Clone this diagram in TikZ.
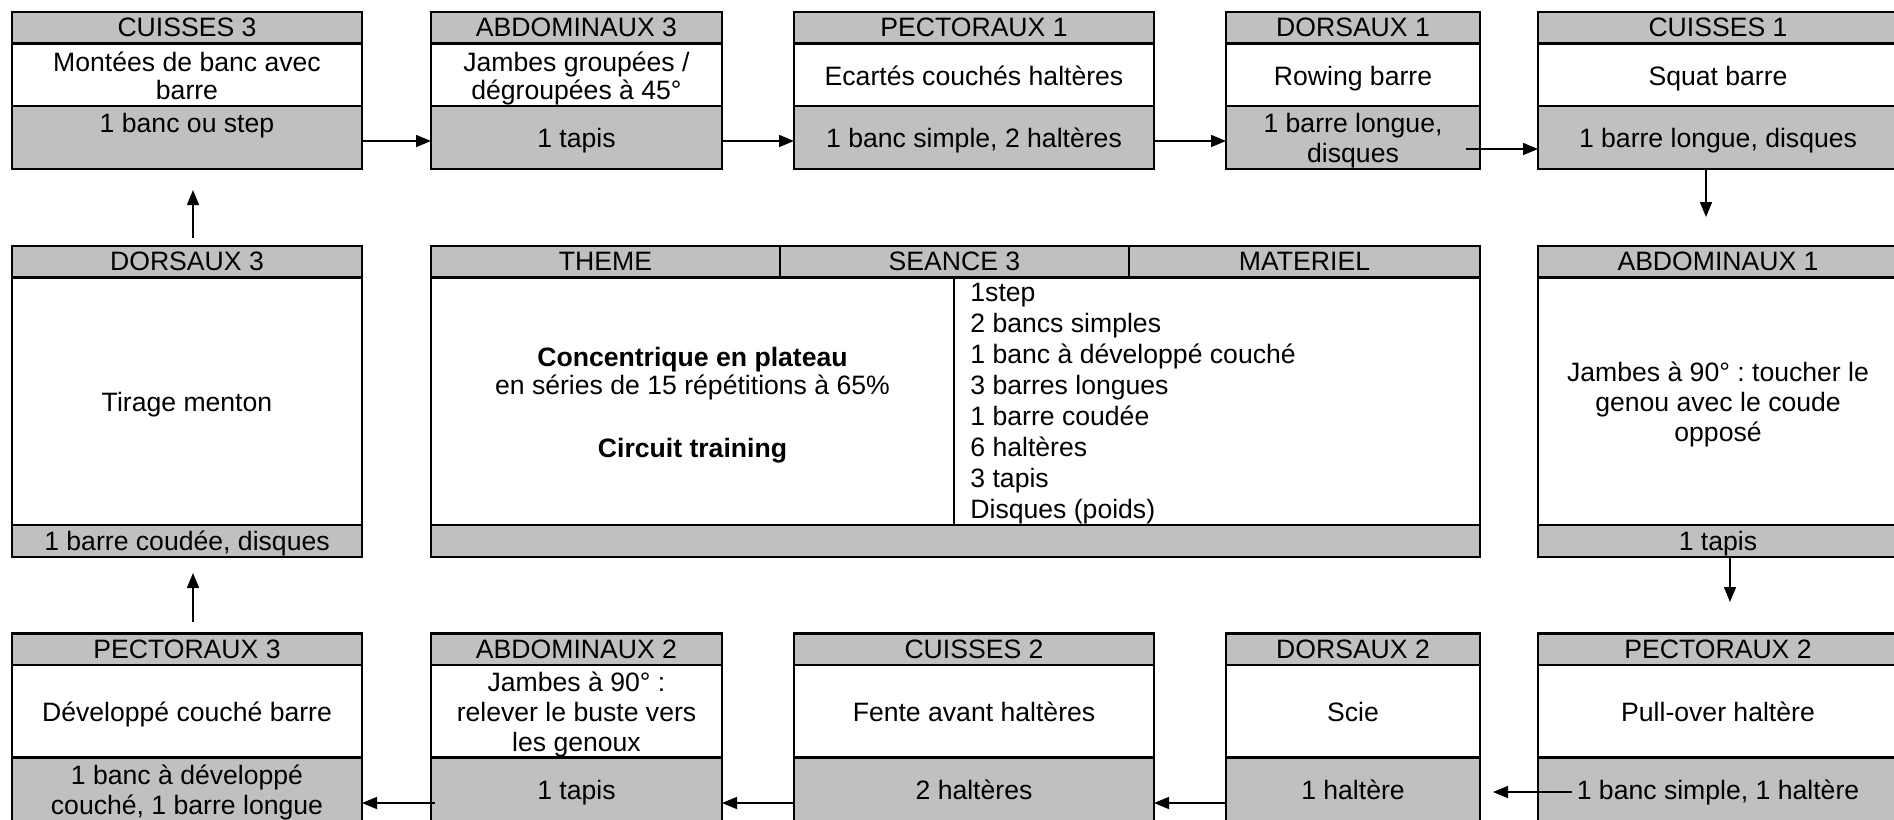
\documentclass[tikz,border=0pt]{standalone}
\usepackage{fontspec}
\setmainfont{Liberation Sans}
\usetikzlibrary{arrows.meta,calc}
\definecolor{boxgray}{RGB}{192,192,192}
\newcommand\cellfont{\fontsize{13.3}{15}\selectfont\frenchspacing}
\newcommand\listfont{\fontsize{13.3}{15.5}\selectfont\frenchspacing}
\newcommand\wstrut{\rule[-0.212em]{0pt}{1.117em}}
\newcommand\wstrutlow{\rule[-0.212em]{0pt}{\dimexpr1.117em+1.2pt\relax}}
\newcommand\gearstrut{\wstrutlow}
\newcommand\mkstation[9]{%
  \node[hd, minimum width=#4] (#1h) at (#2,#3) {#7};
  \node[bd, minimum width=#4, minimum height=#5] (#1b) at (#1h.south west) {\wstrutlow#8};
  \node[gr, minimum width=#4, minimum height=#6] (#1g) at (#1b.south west) {\gearstrut#9};
}
\begin{document}
\begin{tikzpicture}[x=1pt,y=-1pt,
  cell/.style={draw=black, line width=1.2pt, inner sep=0pt, outer sep=0pt, align=center, anchor=north west, font=\cellfont},
  hd/.style={cell, fill=boxgray, minimum height=15.75pt, execute at begin node=\wstrut, execute at end node=\wstrut},
  bd/.style={cell, fill=white, execute at end node=\wstrut},
  gr/.style={cell, fill=boxgray, execute at end node=\wstrut},
  arr/.style={line width=0.75pt, -{Triangle[length=7.5pt,width=6pt]}}]
\useasboundingbox (0,0) rectangle (947,409.5);
\fill[white] (0,0) rectangle (947,409.5);
\clip (0,0) rectangle (947,409.5);

% top row
\mkstation{c3}{6}{6}{175pt}{31.25pt}{31.5pt}{CUISSES 3}{Montées de banc avec\\[-1.1pt]barre}{1 banc ou step\\\mbox{}}
\mkstation{a3}{215.5}{6}{145.5pt}{31.25pt}{31.5pt}{ABDOMINAUX 3}{Jambes groupées /\\[-1.1pt]dégroupées à 45°}{1 tapis}
\mkstation{p1}{397}{6}{180pt}{31.25pt}{31.5pt}{PECTORAUX 1}{Ecartés couchés haltères}{1 banc simple, 2 haltères}
\mkstation{d1}{613}{6}{127pt}{31.25pt}{31.5pt}{DORSAUX 1}{Rowing barre}{1 barre longue,\\disques}
\mkstation{c1}{769}{6}{180pt}{31.25pt}{31.5pt}{CUISSES 1}{Squat barre}{1 barre longue, disques}

% middle row
\def\gearstrut{\wstrut}
\mkstation{d3}{6}{123}{175pt}{123.75pt}{16pt}{DORSAUX 3}{Tirage menton}{1 barre coudée, disques}
\mkstation{a1}{769}{123}{180pt}{123.75pt}{16pt}{ABDOMINAUX 1}{Jambes à 90° : toucher le\\genou avec le coude\\opposé}{1 tapis}

% central table
\node[hd, minimum width=174.5pt] (th1) at (215.5,123) {THEME};
\node[hd, minimum width=174.5pt] (th2) at (th1.north east) {SEANCE 3};
\node[hd, minimum width=175.5pt] (th3) at (th2.north east) {MATERIEL};
\node[bd, minimum width=261.5pt, minimum height=123.75pt] (tb1) at (th1.south west)
  {\rule{0pt}{13.3pt}\textbf{Concentrique en plateau}\\[-1.1pt]en séries de 15 répétitions à 65\%\\[16.4pt]\textbf{Circuit training}};
\node[bd, minimum width=263pt, minimum height=123.75pt] (tb2) at (tb1.north east) {};
\node[gr, minimum width=524.5pt, minimum height=16pt] (tg) at (tb1.south west) {};
\node[anchor=north west, inner sep=0pt, align=left, font=\listfont] (mat) at ($(tb2.north west)+(8,2.8)$)
  {1step\\2 bancs simples\\1 banc à développé couché\\3 barres longues\\1 barre coudée\\6 haltères\\3 tapis\\Disques (poids)};

% bottom row
\def\gearstrut{\wstrutlow}
\mkstation{p3}{6}{316.75}{175pt}{46.25pt}{31.75pt}{PECTORAUX 3}{Développé couché barre}{1 banc à développé\\couché, 1 barre longue}
\mkstation{a2}{215.5}{316.75}{145.5pt}{46.25pt}{31.75pt}{ABDOMINAUX 2}{Jambes à 90° :\\relever le buste vers\\les genoux}{1 tapis}
\mkstation{c2}{397}{316.75}{180pt}{46.25pt}{31.75pt}{CUISSES 2}{Fente avant haltères}{2 haltères}
\mkstation{d2}{613}{316.75}{127pt}{46.25pt}{31.75pt}{DORSAUX 2}{Scie}{1 haltère}
\mkstation{p2}{769}{316.75}{180pt}{46.25pt}{31.75pt}{PECTORAUX 2}{Pull-over haltère}{1 banc simple, 1 haltère}

% arrow rows
\coordinate (r1) at (0,70.5);
\coordinate (r2) at (0,74.5);
\coordinate (r4) at (0,396);
\coordinate (r5) at (0,401.5);

\draw[arr] (c3g.east |- r1) -- (a3g.west |- r1);
\draw[arr] (a3g.east |- r1) -- (p1g.west |- r1);
\draw[arr] (p1g.east |- r1) -- (d1g.west |- r1);
\draw[arr] ($(d1g.east |- r2)+(-7,0)$) -- (c1g.west |- r2);
\draw[arr] ([xshift=-6pt]c1g.south) -- ++(0,24);
\draw[arr] ([xshift=6pt]a1g.south) -- ++(0,22.5);
\draw[arr] ($(p2g.west |- r4)+(17,0)$) -- ($(d2g.east |- r4)+(6.5,0)$);
\draw[arr] (d2g.west |- r5) -- (c2g.east |- r5);
\draw[arr] (c2g.west |- r5) -- (a2g.east |- r5);
\draw[arr] ($(a2g.west |- r5)+(2,0)$) -- (p3g.east |- r5);
\draw[arr] ([xshift=3pt,yshift=5.75pt]p3h.north) -- ++(0,-24.5);
\draw[arr] ([xshift=3pt,yshift=4pt]d3h.north) -- ++(0,-24);
\end{tikzpicture}
\end{document}
